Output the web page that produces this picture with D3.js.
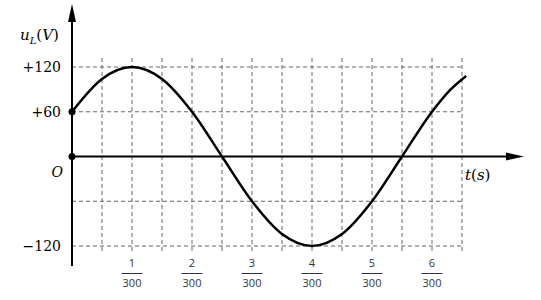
<!DOCTYPE html>
<html>
<head>
<meta charset="utf-8">
<script src="https://cdn.jsdelivr.net/npm/d3@7"></script>
<style>
  body { margin: 0; background: #fff; }
  svg { display: block; }
</style>
</head>
<body>
<script>
// t in units of 1/300 s, u_L in volts
const tValues = [0, 0.5, 1, 1.5, 2, 2.5, 3, 3.5, 4, 4.5, 5, 5.5, 6, 6.3, 6.57];
const uValues = [60, 104, 120, 104, 60, 0, -60, -104, -120, -104, -60, 0, 60, 89, 108];
const yTicks = [120, 60, -120];
const yTickLabels = ['+120', '+60', '\u2212120'];
const xTicks = [1, 2, 3, 4, 5, 6];
const gridX = [0.5, 1, 1.5, 2, 2.5, 3, 3.5, 4, 4.5, 5, 5.5, 6, 6.5];
const gridY = [120, 60, -60, -120];

const width = 541, height = 300;
const svg = d3.select('body').append('svg')
  .attr('width', width)
  .attr('height', height);

// scales: 1/300 s -> 60px, 60 V -> 45px
const x = d3.scaleLinear().domain([0, 6.5]).range([72, 462]);
const y = d3.scaleLinear().domain([-120, 120]).range([246, 67]);

const serif = '"DejaVu Serif", "Liberation Serif", serif';
const sans = '"Open Sans", "Liberation Sans", sans-serif';

// dashed grid
const grid = svg.append('g')
  .attr('stroke', '#666')
  .attr('stroke-width', 1)
  .attr('stroke-dasharray', '4,3');

grid.selectAll('line.v')
  .data(gridX)
  .enter()
  .append('line')
  .attr('x1', d => x(d)).attr('x2', d => x(d))
  .attr('y1', 58).attr('y2', 253);

grid.selectAll('line.h')
  .data(gridY)
  .enter()
  .append('line')
  .attr('x1', x(0)).attr('x2', 464)
  .attr('y1', d => y(d)).attr('y2', d => y(d));

// axes
svg.append('line')
  .attr('x1', x(0)).attr('x2', x(0))
  .attr('y1', 18).attr('y2', 266)
  .attr('stroke', '#000').attr('stroke-width', 2);
svg.append('path')
  .attr('d', `M${x(0)},4 L${x(0) - 4},22 L${x(0) + 4},22 Z`)
  .attr('fill', '#000');

svg.append('line')
  .attr('x1', x(0)).attr('x2', 510)
  .attr('y1', y(0)).attr('y2', y(0))
  .attr('stroke', '#000').attr('stroke-width', 2);
svg.append('path')
  .attr('d', `M524,${y(0)} L506,${y(0) - 4} L506,${y(0) + 4} Z`)
  .attr('fill', '#000');

// curve
const line = d3.line()
  .x((d, i) => x(tValues[i]))
  .y(d => y(d))
  .curve(d3.curveMonotoneX);

svg.append('path')
  .datum(uValues)
  .attr('d', line)
  .attr('fill', 'none')
  .attr('stroke', '#000')
  .attr('stroke-width', 2.5);

// dots on the y axis
svg.selectAll('circle')
  .data([60, 0])
  .enter()
  .append('circle')
  .attr('cx', x(0))
  .attr('cy', d => y(d))
  .attr('r', 3.5)
  .attr('fill', '#000');

// y labels
svg.selectAll('text.ylab')
  .data(yTicks)
  .enter()
  .append('text')
  .attr('x', 61)
  .attr('y', d => y(d) + 5)
  .attr('text-anchor', 'end')
  .attr('font-family', serif)
  .attr('font-size', 14)
  .text((d, i) => yTickLabels[i]);

svg.append('text')
  .attr('x', 63).attr('y', y(0) + 20)
  .attr('text-anchor', 'end')
  .attr('font-family', serif)
  .attr('font-style', 'italic')
  .attr('font-size', 14)
  .text('O');

// axis titles
const uLab = svg.append('text')
  .attr('x', 20).attr('y', 40)
  .attr('font-family', serif)
  .attr('font-size', 15);
uLab.append('tspan').attr('font-style', 'italic').text('u');
uLab.append('tspan').attr('font-style', 'italic').attr('font-size', 10).attr('dy', 4).text('L');
uLab.append('tspan').attr('dy', -4).text('(');
uLab.append('tspan').attr('font-style', 'italic').text('V');
uLab.append('tspan').text(')');

const tLab = svg.append('text')
  .attr('x', 465).attr('y', 180)
  .attr('font-family', serif)
  .attr('font-size', 15);
tLab.append('tspan').attr('font-style', 'italic').text('t');
tLab.append('tspan').text('(');
tLab.append('tspan').attr('font-style', 'italic').text('s');
tLab.append('tspan').text(')');

// fraction tick labels
const fr = svg.selectAll('g.frac')
  .data(xTicks)
  .enter()
  .append('g')
  .attr('transform', d => `translate(${x(d)},0)`);

fr.append('text')
  .attr('y', 267)
  .attr('text-anchor', 'middle')
  .attr('font-family', sans)
  .attr('font-size', 11)
  .attr('fill', '#333')
  .text(d => d);
fr.append('line')
  .attr('x1', -10.5).attr('x2', 10.5)
  .attr('y1', 273.5).attr('y2', 273.5)
  .attr('stroke', '#333').attr('stroke-width', 1);
fr.append('text')
  .attr('y', 287)
  .attr('text-anchor', 'middle')
  .attr('font-family', sans)
  .attr('font-size', 11)
  .attr('fill', '#333')
  .text('300');
</script>
</body>
</html>
